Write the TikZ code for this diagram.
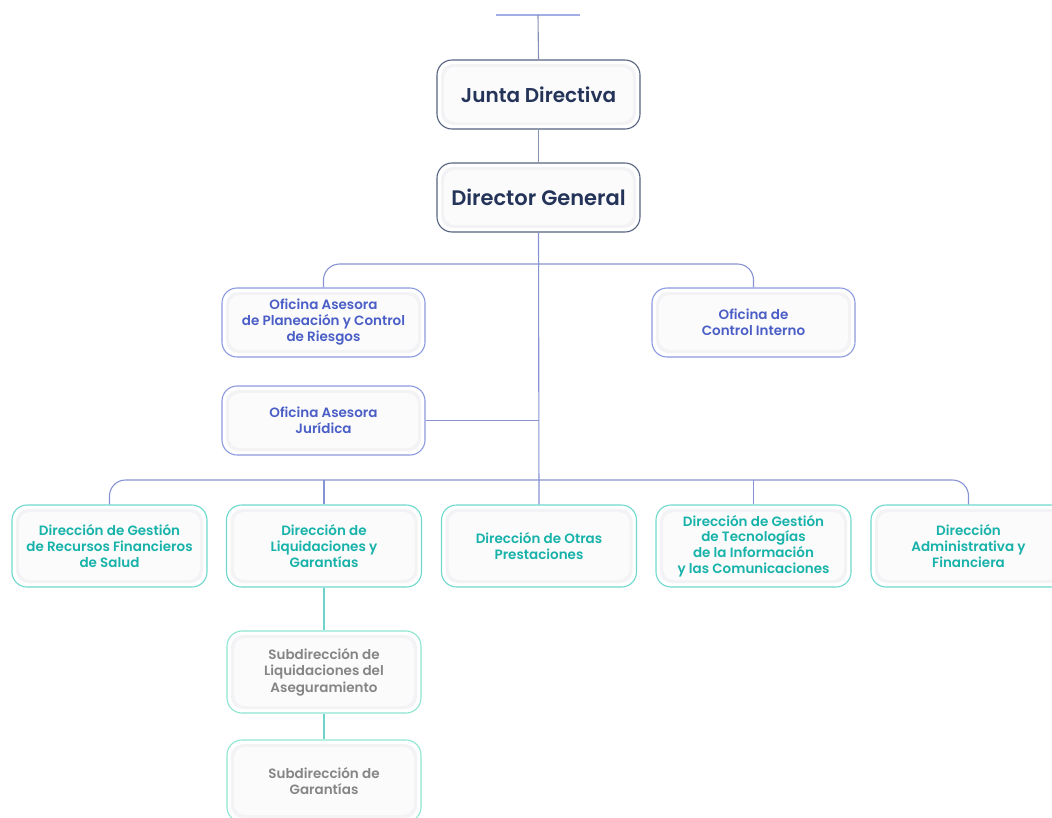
\documentclass[tikz,border=0pt]{standalone}
\usepackage{fontspec}
\setmainfont{Poppins}[BoldFont={Poppins SemiBold}]
\begin{document}
\begin{tikzpicture}[x=1pt,y=-1pt,
  card/.style={draw, line width=1.1pt, rounded corners=15pt, fill=white,
    align=center, inner sep=0pt, font=\bfseries,
    path picture={
      \fill[cardrim, rounded corners=12pt] ([shift={(4pt,-4pt)}]path picture bounding box.north west) rectangle ([shift={(-4pt,4pt)}]path picture bounding box.south east);
      \fill[cardin, rounded corners=11pt] ([shift={(7pt,-7pt)}]path picture bounding box.north west) rectangle ([shift={(-7pt,7pt)}]path picture bounding box.south east);
    }},
  topcard/.style={card, draw=navyb, text=navyt, minimum width=203pt, minimum height=69pt, font=\bfseries\fontsize{20}{24}\selectfont},
  ofcard/.style={card, draw=blueb, text=bluet, minimum width=203pt, minimum height=69pt, font=\bfseries\fontsize{13.5}{16}\selectfont},
  dircard/.style={card, draw=tealb, text=tealt, minimum width=195pt, minimum height=82pt, font=\bfseries\fontsize{13.5}{15.7}\selectfont},
  subcard/.style={card, draw=subb, text=subt, minimum width=194pt, minimum height=82pt, font=\bfseries\fontsize{13.5}{16.5}\selectfont},
  navyline/.style={draw=navyl, line width=1.1pt},
  blueline/.style={draw=bluel, line width=1.1pt, rounded corners=16pt},
  tealline/.style={draw=teall, line width=1.1pt},
]
\definecolor{navyb}{HTML}{56637F}
\definecolor{navyt}{HTML}{243358}
\definecolor{navyl}{HTML}{8591B4}
\definecolor{blueb}{HTML}{8C9AE0}
\definecolor{bluet}{HTML}{4A5EC6}
\definecolor{bluel}{HTML}{8792D2}
\definecolor{tealb}{HTML}{6FD8CE}
\definecolor{tealt}{HTML}{17B2A9}
\definecolor{teall}{HTML}{6FD3CB}
\definecolor{subb}{HTML}{8EE6D0}
\definecolor{subt}{HTML}{858585}
\definecolor{cardrim}{HTML}{F3F3F5}
\definecolor{cardin}{HTML}{FBFBFC}
\useasboundingbox (0,0) rectangle (1052,817);

\coordinate (topL) at (496,15);
\coordinate (topR) at (580,15);
\coordinate (topM) at (538,15);
\coordinate (h1) at (538,264);
\coordinate (h2) at (538,480);

\node[topcard] (jd) at (538.5,94.5) {Junta Directiva};
\node[topcard, font=\bfseries\fontsize{21}{25}\selectfont] (dg) at (538.5,197.5) {Director General};

\node[ofcard] (plan) at (323.5,322.5) {Oficina Asesora\\de Planeación y Control\\de Riesgos};
\node[ofcard] (ctrl) at (753.5,322.5) {Oficina de\\Control Interno};
\node[ofcard] (jur) at (323.5,420.5) {Oficina Asesora\\Jurídica};

\node[dircard] (d1) at (109.5,546) {Dirección de Gestión\\de Recursos Financieros\\de Salud};
\node[dircard] (d2) at (324,546) {Dirección de\\Liquidaciones y\\Garantías};
\node[dircard] (d3) at (539,546) {Dirección de Otras\\Prestaciones};
\node[dircard] (d4) at (753.5,546) {Dirección de Gestión\\de Tecnologías\\de la Información\\y las Comunicaciones};
\node[dircard] (d5) at (968.5,546) {Dirección\\Administrativa y\\Financiera};

\node[subcard] (s1) at (324,672) {Subdirección de\\Liquidaciones del\\Aseguramiento};
\node[subcard] (s2) at (324,781) {Subdirección de\\Garantías};

% top connectors
\draw[draw=blueb!80, line width=1.1pt] (topL) -- (topR);
\draw[navyline] (topM) -- (jd.north);
\draw[navyline] (jd.south) -- (dg.north);

% director connectors
\draw[blueline] (dg.south) -- (d3.north);
\draw[blueline] (plan.north) |- (h1) -| (ctrl.north);
\draw[blueline] (jur.east) -- (jur.east -| dg.south);
\draw[blueline] (d1.north) |- (h2) -| (d5.north);
\draw[blueline] (d2.north) -- (d2.north |- h2);
\draw[blueline] (d4.north) -- (d4.north |- h2);

% sub connectors
\draw[tealline] (d2.south) -- (s1.north);
\draw[tealline] (s1.south) -- (s2.north);
\end{tikzpicture}
\end{document}
